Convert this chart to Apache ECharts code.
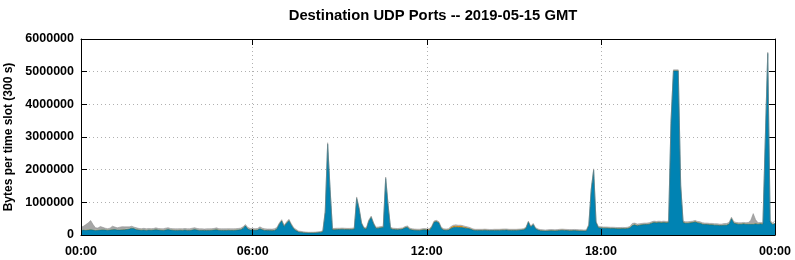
<!DOCTYPE html>
<html>
<head>
<meta charset="utf-8">
<script src="https://cdn.jsdelivr.net/npm/echarts@6/dist/echarts.min.js"></script>
<style>html,body{margin:0;padding:0;background:#fff}#c{width:795px;height:260px}</style>
</head>
<body>
<div id="c"></div>
<script>
// 288 five-minute slots; each slot is labelled by its end time (00:05 ... 24:00)
const slotMinutes = 5;
// Values are in kilobytes (x1000 bytes) per slot
const blueKB = [
140,150,145,150,160,150,140,145,150,155,
150,145,150,160,165,150,150,155,160,170,
180,210,190,160,150,145,150,140,150,145,
150,160,150,145,140,150,165,150,145,140,
140,145,140,150,140,140,150,165,150,140,
140,135,140,140,145,150,160,145,140,140,
140,145,140,140,145,150,160,200,280,180,
150,150,145,150,190,160,140,135,135,130,
140,180,330,430,260,360,440,300,180,130,
90,80,70,65,60,60,60,65,70,80,
100,700,2780,1400,160,160,165,170,175,170,
165,165,170,180,1120,800,350,200,180,420,
540,340,200,210,220,230,1730,900,200,170,
165,160,170,180,220,240,170,150,145,140,
140,150,160,150,140,230,390,410,370,200,
150,145,150,200,230,240,230,230,220,210,
200,180,150,140,140,140,140,145,140,135,
135,140,140,140,145,145,150,140,140,140,
140,145,150,160,200,390,240,320,190,150,
130,125,120,125,130,130,125,130,140,145,
140,135,130,130,135,130,125,125,120,125,
290,1380,1980,380,220,215,210,210,205,200,
200,195,190,190,195,190,200,220,290,310,
280,300,310,320,320,330,360,380,370,380,
370,380,370,380,3480,5020,5020,5020,1500,380,
360,360,370,380,400,370,360,330,320,320,
310,310,300,300,290,290,300,300,330,500,
360,340,330,330,340,330,330,330,330,340,
330,340,330,2950,5560,400,320,350
];
const greenKB = [
8,8,8,8,8,8,8,8,8,8, 8,8,8,8,8,8,8,8,8,8, 8,8,8,8,8,8,8,8,8,8, 8,8,8,8,8,8,8,8,8,8,
8,8,8,8,8,8,8,8,8,8, 8,8,8,8,8,8,8,8,8,8, 8,8,8,8,8,8,8,8,8,8, 8,8,8,8,8,8,8,8,8,8,
8,8,8,8,8,8,8,8,8,8, 6,6,6,6,6,6,6,6,6,6, 8,10,10,10,8,8,8,8,8,8, 8,8,8,8,10,10,8,8,8,8,
8,8,8,8,8,8,10,10,8,8, 8,8,8,8,8,8,8,8,8,8, 8,8,8,8,8,8,8,8,8,8, 8,8,8,10,10,10,10,10,10,8,
8,8,8,8,8,8,8,8,8,8, 8,8,8,8,8,8,8,8,8,8, 8,8,8,8,8,8,8,8,8,8, 8,8,8,8,8,8,8,8,8,8,
8,8,8,8,8,8,8,8,8,8, 8,10,10,8,8,8,8,8,8,8, 8,8,8,8,8,8,8,8,10,10, 10,10,10,10,10,10,10,10,10,10,
10,10,10,10,10,10,10,10,10,10, 10,10,10,10,10,10,10,10,10,10, 10,10,10,10,10,10,10,10,10,10, 10,10,10,10,10,10,10,10,10,10,
10,10,10,10,10,10,10,10
];
const orangeKB = [
12,12,15,15,15,12,12,12,12,12, 12,12,12,12,12,12,12,12,12,12, 12,12,12,12,12,12,12,12,12,12, 12,12,12,12,12,12,12,12,12,12,
12,12,12,12,12,12,12,12,12,12, 12,12,12,12,12,12,12,12,12,12, 12,12,12,12,12,12,12,12,12,12, 12,12,12,12,12,12,12,12,12,12,
12,12,12,12,12,12,12,12,12,12, 10,10,10,10,10,10,10,10,10,10, 12,15,15,15,15,20,20,15,15,15, 15,15,15,15,15,15,15,15,15,15,
15,15,15,15,15,15,15,15,15,15, 15,15,15,15,15,15,15,15,15,15, 15,15,15,15,25,15,15,15,15,15, 15,15,20,35,40,40,40,40,35,30,
25,20,15,12,12,12,12,12,12,12, 12,12,12,12,12,12,12,12,12,12, 12,12,12,12,12,12,12,12,12,12, 12,12,12,12,12,12,12,12,12,12,
12,12,12,12,12,12,12,12,12,12, 12,15,15,15,15,15,15,15,15,15, 15,15,15,15,15,15,15,15,15,15, 15,15,15,15,15,15,15,15,15,15,
15,15,15,15,15,15,15,15,15,15, 15,15,15,15,15,15,15,15,15,15, 15,15,15,15,15,15,15,15,15,15, 15,15,15,15,15,15,15,15,15,15,
15,15,15,15,15,15,15,15
];
const grayKB = [
80,100,150,200,260,150,60,50,90,60,
40,30,40,90,60,50,70,80,70,60,
50,40,30,40,30,30,35,30,30,30,
30,40,30,30,30,40,40,30,30,30,
30,30,30,30,30,30,40,40,30,30,
30,30,30,30,30,30,40,30,30,30,
30,30,30,30,30,30,30,30,20,30,
30,30,30,30,40,30,30,30,30,30,
30,30,20,20,20,20,20,20,20,20,
15,15,10,10,10,10,10,10,10,10,
10,20,20,20,15,15,15,15,15,15,
15,15,15,15,20,20,15,15,15,15,
15,15,15,15,15,15,20,20,15,15,
15,15,15,15,15,15,15,15,15,15,
15,15,15,15,15,15,15,15,15,15,
15,15,15,15,20,20,20,20,20,15,
15,15,15,15,15,15,15,15,15,15,
15,15,15,15,15,20,15,15,15,15,
15,15,15,15,15,15,15,15,15,15,
15,15,15,15,15,15,15,15,15,15,
15,15,15,15,15,15,15,15,15,15,
15,20,20,15,15,15,15,15,15,15,
15,15,15,15,15,15,15,20,40,30,
30,20,20,20,20,20,20,20,20,20,
20,20,20,20,20,10,10,10,20,20,
20,20,20,20,20,20,20,20,20,20,
20,20,20,20,20,20,25,30,30,20,
20,20,20,20,20,20,30,100,300,100,
20,20,20,20,10,20,20,60
];
const yMax = 6000000, yStep = 1000000;
const titleText = 'Destination UDP Ports -- 2019-05-15 GMT';
const yName = 'Bytes per time slot (300 s)';

const pad = n => (n < 10 ? '0' : '') + n;
const slotLabels = blueKB.map((_, i) => {
  const m = (i + 1) * slotMinutes;
  return pad(Math.floor(m / 60)) + ':' + pad(m % 60);
});
const toBytes = arr => arr.map(v => v * 1000);

const FONT = 'Liberation Sans';
const lab = { fontFamily: FONT, fontWeight: 'bold', fontSize: 12.5, color: '#000' };
const isSixHour = (idx) => ((idx + 1) * slotMinutes) % 360 === 0;
const tickInterval = (idx) => isSixHour(idx) && idx < slotLabels.length - 1;
const labelInterval = (idx) => idx === 0 || isSixHour(idx);
const fmtX = (v, idx) => (idx === 0 ? '00:00' : pad(parseInt(v, 10) % 24) + ':00');

const chart = echarts.init(document.getElementById('c'), null, { renderer: 'canvas' });
const mkSeries = (name, arr, color, lineColor, lineWidth) => ({
  name, type: 'line', stack: 'total', data: toBytes(arr), symbol: 'none',
  xAxisIndex: 0, yAxisIndex: 0,
  lineStyle: { width: lineWidth, color: lineColor },
  areaStyle: { color: color, opacity: 1 },
  itemStyle: { color: color },
  emphasis: { disabled: true }
});
const xBase = {
  type: 'category', data: slotLabels, boundaryGap: false,
  axisLine: { show: true, onZero: false, lineStyle: { color: '#000', width: 1 } },
  axisTick: { show: true, inside: true, length: 6, interval: tickInterval, lineStyle: { color: '#000' } }
};
chart.setOption({
  animation: false,
  title: { text: titleText, left: 428, top: 3, textAlign: 'center',
    textStyle: { fontFamily: FONT, fontWeight: 'bold', fontSize: 14.8, color: '#000' } },
  grid: { left: 81, right: 20, top: 39, bottom: 25, containLabel: false, outerBoundsMode: 'none' },
  xAxis: [
    Object.assign({}, xBase, { position: 'bottom', z: 10,
      axisLabel: { show: true, interval: labelInterval, formatter: fmtX, margin: 10, ...lab },
      splitLine: { show: false } }),
    Object.assign({}, xBase, { position: 'top', z: 0,
      axisLabel: { show: false },
      splitLine: { show: true, interval: tickInterval, lineStyle: { color: '#b0b0b0', type: [1, 3], width: 1 } } })
  ],
  yAxis: [
    { type: 'value', min: 0, max: yMax, interval: yStep, position: 'left', z: 10,
      name: yName, nameLocation: 'middle', nameRotate: 90, nameGap: 61,
      nameTextStyle: { fontFamily: FONT, fontWeight: 'bold', fontSize: 12, color: '#000' },
      axisLine: { show: true, onZero: false, lineStyle: { color: '#000', width: 1 } },
      axisTick: { show: true, inside: true, length: 6, lineStyle: { color: '#000' } },
      axisLabel: { show: true, formatter: v => String(v), margin: 7, ...lab },
      splitLine: { show: false } },
    { type: 'value', min: 0, max: yMax, interval: yStep, position: 'right', z: 0,
      axisLine: { show: true, onZero: false, lineStyle: { color: '#000', width: 1 } },
      axisTick: { show: true, inside: true, length: 6, lineStyle: { color: '#000' } },
      axisLabel: { show: false },
      splitLine: { show: true, lineStyle: { color: '#b0b0b0', type: [1, 3], width: 1 } } }
  ],
  series: [
    mkSeries('blue', blueKB, '#0083b3', '#0f6a7e', 0.7),
    mkSeries('green', greenKB, '#3f7a4a', '#3f7a4a', 0),
    mkSeries('orange', orangeKB, '#d98c1a', '#d98c1a', 0),
    mkSeries('gray', grayKB, '#a6a6a6', '#8a8a8a', 0.5)
  ]
});
</script>
</body>
</html>
